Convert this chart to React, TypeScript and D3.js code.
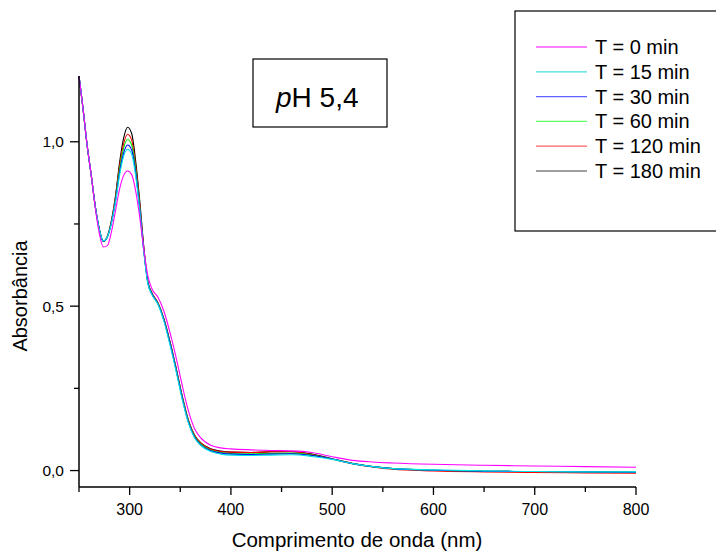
import React from "react";
import * as d3 from "d3";

const wavelengths = [250,254,258,262,266,270,274,278,282,286,290,294,298,302,306,310,314,318,322,328,334,340,346,352,358,364,370,380,390,400,420,440,460,480,500,520,540,560,600,650,700,750,800];

const t0 = [1.20,1.10,0.99,0.90,0.80,0.722,0.68,0.684,0.725,0.79,0.855,0.897,0.911,0.90,0.85,0.77,0.672,0.592,0.553,0.527,0.483,0.418,0.342,0.258,0.182,0.128,0.10,0.077,0.069,0.066,0.063,0.061,0.06,0.055,0.042,0.031,0.026,0.023,0.019,0.016,0.014,0.012,0.010];
const t15 = [1.20,1.10,0.99,0.90,0.805,0.735,0.698,0.71,0.752,0.815,0.897,0.955,0.977,0.962,0.895,0.79,0.665,0.568,0.535,0.505,0.452,0.38,0.30,0.215,0.145,0.10,0.077,0.058,0.05,0.047,0.046,0.047,0.048,0.043,0.034,0.021,0.012,0.006,0.002,-0.001,-0.003,-0.004,-0.004];
const t30 = [1.20,1.10,0.99,0.90,0.805,0.735,0.697,0.71,0.753,0.82,0.905,0.965,0.99,0.975,0.905,0.795,0.668,0.57,0.537,0.507,0.456,0.385,0.305,0.22,0.148,0.102,0.079,0.06,0.053,0.05,0.049,0.05,0.051,0.046,0.035,0.021,0.012,0.006,0.001,-0.002,-0.003,-0.004,-0.005];
const t60 = [1.20,1.10,0.99,0.90,0.805,0.735,0.697,0.711,0.755,0.825,0.915,0.98,1.007,0.99,0.915,0.80,0.67,0.572,0.538,0.508,0.457,0.387,0.307,0.222,0.15,0.104,0.081,0.062,0.055,0.052,0.051,0.052,0.053,0.047,0.035,0.021,0.012,0.006,0.001,-0.002,-0.003,-0.004,-0.005];
const t120 = [1.20,1.10,0.99,0.90,0.805,0.735,0.697,0.712,0.758,0.83,0.925,0.993,1.023,1.005,0.925,0.81,0.675,0.573,0.54,0.51,0.46,0.39,0.31,0.225,0.153,0.107,0.084,0.065,0.058,0.056,0.055,0.057,0.057,0.049,0.035,0.021,0.011,0.004,-0.001,-0.004,-0.006,-0.007,-0.008];
const t180 = [1.20,1.10,0.99,0.90,0.805,0.735,0.697,0.712,0.76,0.835,0.935,1.01,1.044,1.025,0.94,0.82,0.68,0.575,0.54,0.51,0.46,0.39,0.31,0.225,0.153,0.108,0.085,0.066,0.059,0.056,0.055,0.057,0.058,0.050,0.036,0.022,0.012,0.006,0.001,-0.002,-0.003,-0.004,-0.005];

const seriesLabels = ["T = 0 min","T = 15 min","T = 30 min","T = 60 min","T = 120 min","T = 180 min"];
const seriesValues = [t0, t15, t30, t60, t120, t180];
const seriesColors = ["#ff00ff","#00e5e5","#0000ff","#00ee00","#ff0000","#000000"];
const legendColors = ["#ff00ff","#40e0e0","#6060ff","#60ff60","#ff6060","#404040"];

const xMajorTicks = [300,400,500,600,700,800];
const xMinorTicks = [250,350,450,550,650,750];
const yMajorTicks = [0,0.5,1.0];
const yMinorTicks = [0.25,0.75];
const fmtY = (v: number) => v.toFixed(1).replace(".", ",");

const FONT = "'Liberation Sans', Arial, sans-serif";

export default function App() {
  const x = d3.scaleLinear().domain([250, 800]).range([79, 636]);
  const y = d3.scaleLinear().domain([-0.05, 1.2]).range([487, 76]);
  const line = d3.line<[number, number]>()
    .x(d => x(d[0]))
    .y(d => y(d[1]))
    .curve(d3.curveMonotoneX);

  const order = [5, 4, 3, 2, 1, 0];
  const legendRowY = (i: number) => 47 + i * 24.8;

  return (
    <svg width={716} height={553} style={{ position: "absolute", left: 0, top: 0, background: "#fff" }} fontFamily={FONT}>
      <rect x={0} y={0} width={716} height={553} fill="#fff" />
      {order.map(i => (
        <path key={i} d={line(wavelengths.map((w, k) => [w, seriesValues[i][k]] as [number, number])) || ""}
          fill="none" stroke={seriesColors[i]} strokeWidth={1.1} />
      ))}
      {/* axes */}
      <line x1={79} x2={79} y1={y(1.2)} y2={487} stroke="#000" strokeWidth={1.5} />
      <line x1={79} x2={636} y1={487} y2={487} stroke="#000" strokeWidth={1.5} />
      {xMajorTicks.map(t => (
        <g key={"xm" + t}>
          <line x1={x(t)} x2={x(t)} y1={487} y2={495} stroke="#000" strokeWidth={1.3} />
          <text x={x(t)} y={515} fontSize={16} textAnchor="middle" fill="#000">{t}</text>
        </g>
      ))}
      {xMinorTicks.map(t => (
        <line key={"xn" + t} x1={x(t)} x2={x(t)} y1={487} y2={492} stroke="#000" strokeWidth={1.3} />
      ))}
      {yMajorTicks.map(t => (
        <g key={"ym" + t}>
          <line x1={70} x2={79} y1={y(t)} y2={y(t)} stroke="#000" strokeWidth={1.3} />
          <text x={64} y={y(t) + 5.5} fontSize={15.5} textAnchor="end" fill="#000">{fmtY(t)}</text>
        </g>
      ))}
      {yMinorTicks.map(t => (
        <line key={"yn" + t} x1={74} x2={79} y1={y(t)} y2={y(t)} stroke="#000" strokeWidth={1.3} />
      ))}
      <text transform={`translate(27,296) rotate(-90)`} fontSize={20} textAnchor="middle" fill="#000">Absorbância</text>
      <text x={357} y={547} fontSize={20.5} textAnchor="middle" fill="#000">Comprimento de onda (nm)</text>
      {/* pH box */}
      <rect x={253} y={59} width={134} height={68} fill="#fff" stroke="#000" strokeWidth={1.2} />
      <text x={276} y={107} fontSize={28} fill="#000"><tspan fontStyle="italic">p</tspan>H 5,4</text>
      {/* legend */}
      <rect x={515} y={11} width={220} height={220} fill="#fff" stroke="#000" strokeWidth={1.2} />
      {seriesLabels.map((lab, i) => (
        <g key={lab}>
          <line x1={536} x2={587} y1={legendRowY(i)} y2={legendRowY(i)} stroke={legendColors[i]} strokeWidth={1.2} />
          <text x={595} y={legendRowY(i) + 7} fontSize={20} fill="#000">{lab}</text>
        </g>
      ))}
    </svg>
  );
}
